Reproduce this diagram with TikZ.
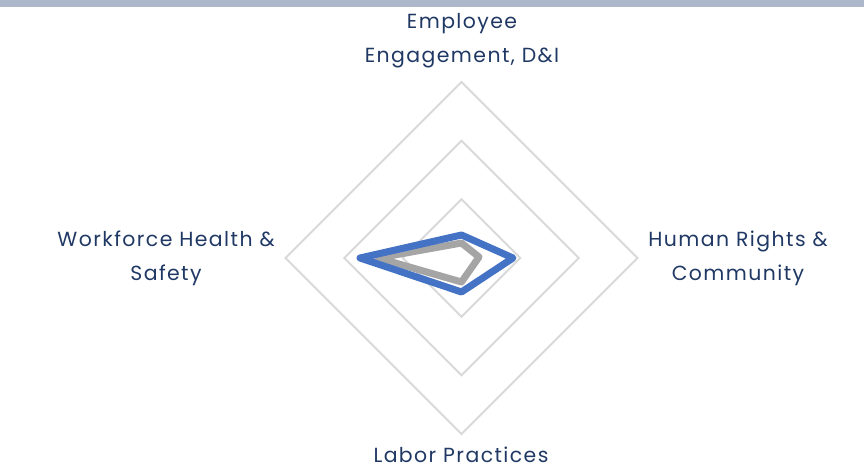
\documentclass[tikz,border=0pt]{standalone}
\usepackage{fontspec}
\setmainfont{Poppins}[LetterSpace=7]
\usepackage{xcolor}
\usepackage{tikz}
\usetikzlibrary{calc}

\definecolor{barblue}{HTML}{ADB9CA}
\definecolor{ringgray}{HTML}{D9D9D9}
\definecolor{seriesblue}{HTML}{4472C4}
\definecolor{seriesgray}{HTML}{A5A5A5}
\definecolor{labelnavy}{HTML}{203864}

\tikzset{
  axislabel/.style={text=labelnavy, font=\fontsize{20.5}{34}\selectfont, align=center},
  ring/.style={draw=ringgray, line width=2bp},
  series/.style={line width=7bp, line join=round}
}

\begin{document}
\begin{tikzpicture}[x=1bp, y=-1bp]
        \useasboundingbox (0, 0) rectangle (864, 468);
        \fill[barblue] (0, 0) rectangle (864, 7);

        % rings of the radar
        \coordinate (center) at (461.5, 258);
        \foreach \r in {58.7, 117.3, 176} {
            \draw[ring] ($(center)+(0,-\r)$) -- ($(center)+(\r,0)$) -- ($(center)+(0,\r)$) -- ($(center)+(-\r,0)$) -- cycle;
        }

        % axis labels
        \node[axislabel] (engage) at (462, 41) {Employee\\Engagement, D\&I};
        \node[axislabel] (rights) at (738, 258.5) {Human Rights \&\\Community};
        \node[axislabel] (labor) at (461, 455) {Labor Practices};
        \node[axislabel] (safety) at (166, 258.5) {Workforce Health \&\\Safety};

        % gray series
        \coordinate (g1) at (461.5, 243);
        \coordinate (g2) at (479, 257);
        \coordinate (g3) at (461.5, 282);
        \coordinate (g4) at (378, 258);
        \draw[series, seriesgray] (g1) -- (g2) -- (g3) -- (g4) -- cycle;

        % blue series
        \coordinate (b1) at (461.5, 235);
        \coordinate (b2) at (513, 258);
        \coordinate (b3) at (461.5, 292);
        \coordinate (b4) at (360, 258);
        \draw[series, seriesblue] (b1) -- (b2) -- (b3) -- (b4) -- cycle;
    \end{tikzpicture}
\end{document}
